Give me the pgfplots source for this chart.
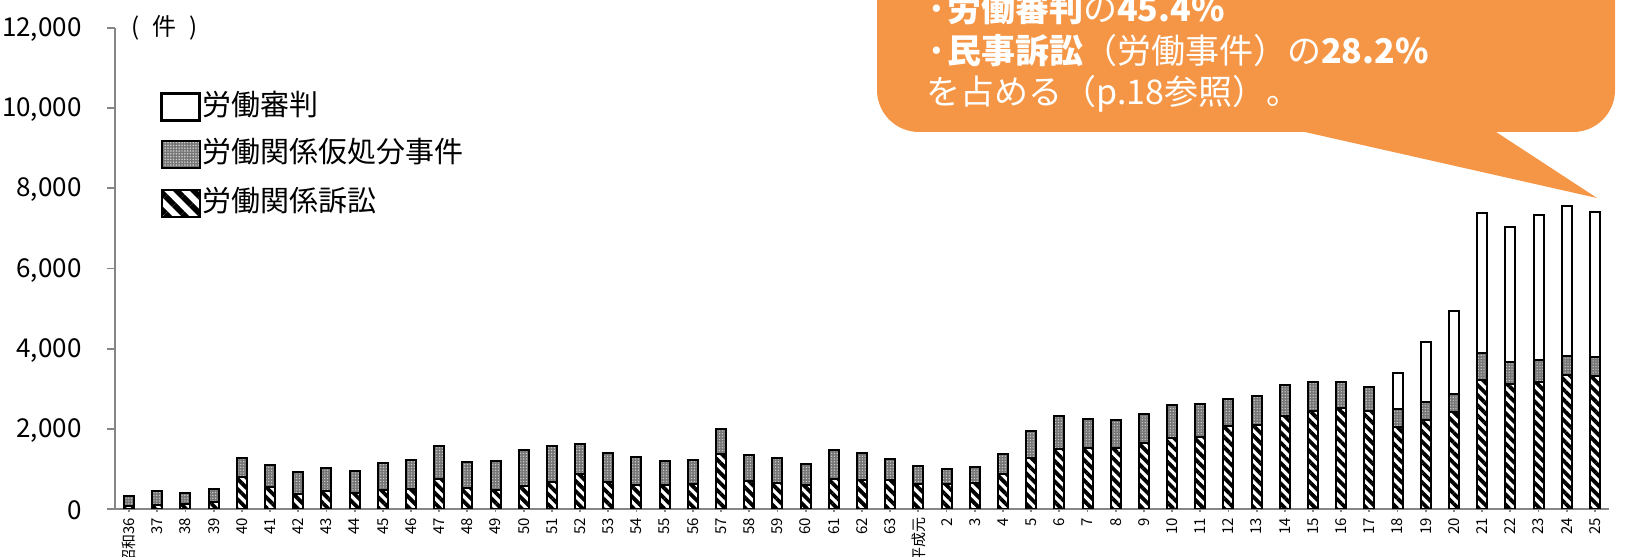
\documentclass[border=0pt]{standalone}
\usepackage{fontspec}
\setmainfont{Noto Sans CJK JP}
\usepackage{pgfplots}
\pgfplotsset{compat=1.18}
\usepackage{pgfplotstable}
\usetikzlibrary{patterns,patterns.meta}

\definecolor{calloutorange}{RGB}{245,150,70}
\definecolor{axisgray}{RGB}{134,134,134}
\definecolor{dotgray}{RGB}{118,118,118}
\definecolor{dotlight}{RGB}{205,205,205}

% x: category index, s: 労働関係訴訟, p: 労働関係仮処分事件, j: 労働審判
\pgfplotstableread{
x s p j
0 80 240 0
1 100 349 0
2 133 266 0
3 175 324 0
4 799 464 0
5 549 549 0
6 365 549 0
7 457 566 0
8 399 540 0
9 482 666 0
10 499 714 0
11 756 807 0
12 524 649 0
13 464 742 0
14 582 898 0
15 664 899 0
16 874 756 0
17 664 734 0
18 607 698 0
19 589 599 0
20 631 600 0
21 1363 641 0
22 689 649 0
23 649 624 0
24 599 532 0
25 749 731 0
26 714 684 0
27 714 542 0
28 631 432 0
29 624 382 0
30 649 407 0
31 881 499 0
32 1280 667 0
33 1498 831 0
34 1530 724 0
35 1523 688 0
36 1647 724 0
37 1772 824 0
38 1805 820 0
39 2062 691 0
40 2105 724 0
41 2312 774 0
42 2437 724 0
43 2521 649 0
44 2437 616 0
45 2037 467 885
46 2229 432 1498
47 2421 449 2060
48 3210 684 3480
49 3127 532 3380
50 3160 567 3601
51 3345 481 3744
52 3327 457 3637
}\datatable

\tikzset{
  graydots/.style={fill=dotgray, postaction={pattern={Dots[distance=1.4pt,radius=0.36pt]}, pattern color=dotlight}},
}

\begin{document}
\begin{tikzpicture}
\useasboundingbox (0,0) rectangle (814.5pt,278.5pt);
\begin{axis}[
  at={(57.5pt,24pt)}, anchor=south west,
  scale only axis, width=747pt, height=240.5pt,
  xmin=-0.5, xmax=52.5, ymin=0, ymax=12000,
  ybar stacked, bar width=5pt,
  axis lines*=left,
  axis line style={axisgray, line width=0.9pt, -},
  ytick={0,2000,...,12000},
  xtick={0,...,52},
  xticklabels={昭和36,37,38,39,40,41,42,43,44,45,46,47,48,49,50,51,52,53,54,55,56,57,58,59,60,61,62,63,平成元,2,3,4,5,6,7,8,9,10,11,12,13,14,15,16,17,18,19,20,21,22,23,24,25},
  tick align=outside,
  tick style={axisgray, line width=0.9pt},
  ytick style={/pgfplots/major tick length=4pt},
  xtick style={/pgfplots/major tick length=1.6pt},
  scaled y ticks=false,
  /pgf/number format/1000 sep={,},
  /pgf/number format/assume math mode=true,
  yticklabel style={font=\fontsize{13}{15}\selectfont, anchor=east, inner sep=0pt, xshift=-12.3pt, yshift=-0.8pt},
  xticklabel style={font=\fontsize{7.5}{8}\selectfont, rotate=90, anchor=east, inner sep=0pt, xshift=0pt},
  reverse legend,
  legend cell align=left,
  legend style={at={(0.029,0.867)}, anchor=north west, draw=none, fill=none, inner sep=0pt,
    row sep=9pt, font=\fontsize{14.5}{16}\selectfont,
    nodes={inner sep=0pt, text height=10.5pt, text depth=2.5pt},
    /tikz/every even column/.style={column sep=5pt}},
]
\addplot[draw=black, line width=1pt, pattern={Lines[angle=-45,distance=3.6pt,line width=1.9pt]},
  legend image code/.code={\path[pattern={Lines[angle=-45,distance=6pt,line width=2.8pt]}] (0pt,-6.75pt) rectangle (19pt,6.75pt);}]
  table[x=x, y=s] {\datatable};
\addlegendentry{労働関係訴訟}
\addplot[draw=black, line width=1pt, graydots,
  legend image code/.code={\path[graydots] (0pt,-6.75pt) rectangle (19pt,6.75pt);}]
  table[x=x, y=p] {\datatable};
\addlegendentry{労働関係仮処分事件}
\addplot[draw=black, line width=1pt, fill=white,
  legend image code/.code={\draw[line width=1.3pt, fill=white] (0pt,-6.75pt) rectangle (19pt,6.75pt);}]
  table[x=x, y=j] {\datatable};
\addlegendentry{労働審判}
\end{axis}

\node[font=\fontsize{12}{14}\selectfont, inner sep=0pt] at (82.5pt,264.5pt) {(\hspace{6.5pt}件\hspace{6.5pt})};

% callout
\fill[calloutorange, rounded corners=21pt] (438.5pt,212.5pt) rectangle (807.5pt,300pt);
\fill[calloutorange] (648pt,213.5pt) -- (798.5pt,179.5pt) -- (746.5pt,213.5pt) -- cycle;
\begin{scope}[every node/.style={anchor=base west, inner sep=0pt, text=white, font=\fontsize{17}{19}\selectfont}]
\node at (463pt,267.6pt) {\textbf{·労働審判}の\textbf{45.4\%}};
\node at (463pt,246.6pt) {\textbf{·民事訴訟}（労働事件）の\textbf{28.2\%}};
\node at (463pt,226.2pt) {を占める（p.18参照）。};
\end{scope}
\end{tikzpicture}
\end{document}
